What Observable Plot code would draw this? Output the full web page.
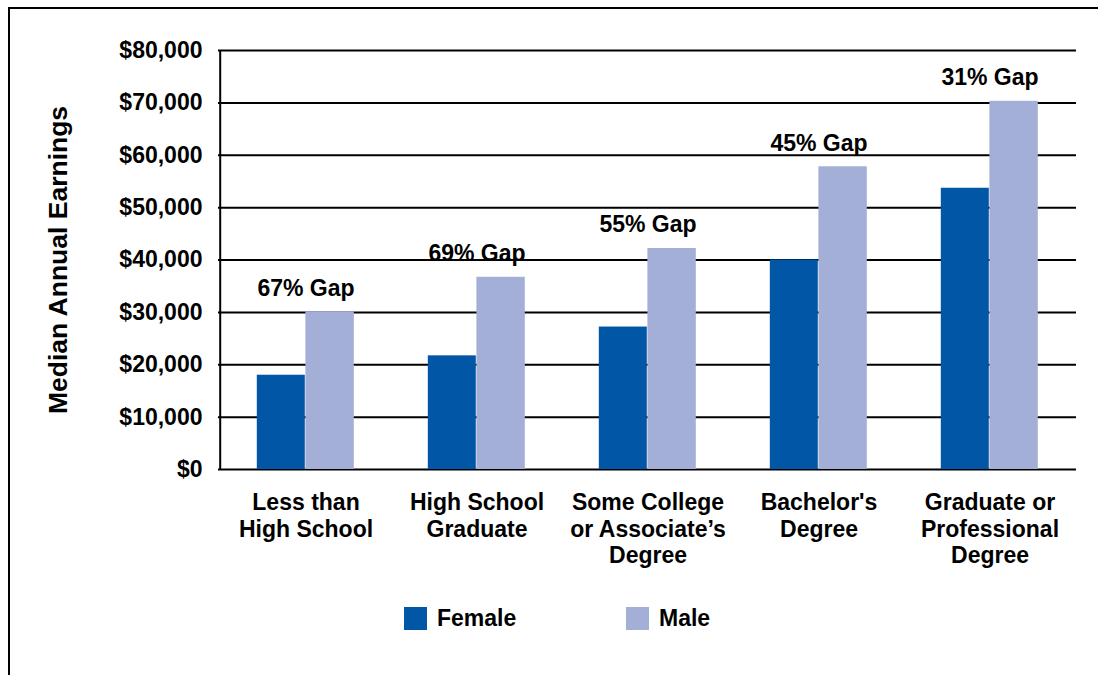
<!DOCTYPE html>
<html>
<head>
<meta charset="utf-8">
<script src="https://cdn.jsdelivr.net/npm/d3@7"></script>
<script src="https://cdn.jsdelivr.net/npm/@observablehq/plot@0.6"></script>
<style>
  html, body { margin: 0; padding: 0; background: #fff; }
  body { width: 1098px; height: 675px; position: relative; overflow: hidden; font-family: "Liberation Sans", Arial, sans-serif; }
  #frame { position: absolute; left: 8px; top: 7px; width: 1200px; height: 800px; border-left: 2px solid #000; border-top: 2px solid #000; box-sizing: border-box; }
  #chart { position: absolute; left: 0; top: 0; }
  #legend { position: absolute; top: 607px; left: 0; width: 1098px; height: 23px; font-weight: bold; font-size: 23px; color: #000; }
  .item { position: absolute; top: 0; display: flex; align-items: center; height: 23px; }
  .sw { width: 23px; height: 23px; margin-right: 10px; }
</style>
</head>
<body>
<div id="frame"></div>
<div id="chart"></div>
<div id="legend"></div>
<script>
const categories = [
  "Less than\nHigh School",
  "High School\nGraduate",
  "Some College\nor Associate’s\nDegree",
  "Bachelor's\nDegree",
  "Graduate or\nProfessional\nDegree"
];
const series = ["Female", "Male"];
const femaleValues = [18000, 21700, 27200, 40000, 53700];
const maleValues = [30100, 36700, 42200, 57800, 70300];
const gapLabels = ["67% Gap", "69% Gap", "55% Gap", "45% Gap", "31% Gap"];
const yTicks = [0, 10000, 20000, 30000, 40000, 50000, 60000, 70000, 80000];
const colors = ["#0256A6", "#A4AFD8"];

const female = categories.map((c, i) => ({category: c, value: femaleValues[i], sex: "Female"}));
const male = categories.map((c, i) => ({category: c, value: maleValues[i], sex: "Male", gap: gapLabels[i]}));

const W = 1098, H = 590, mL = 218, mR = 22, mT = 50, mB = 121;
const band = (W - mL - mR) / categories.length;

const fmt = d3.format("$,.0f");

const plot = Plot.plot({
  width: W,
  height: H,
  marginLeft: mL,
  marginRight: mR,
  marginTop: mT,
  marginBottom: mB,
  style: {fontFamily: "Liberation Sans, Arial, sans-serif", color: "#000", background: "transparent", overflow: "visible"},
  x: {type: "band", domain: categories, padding: 0, label: null},
  y: {domain: [0, 80000], label: null},
  color: {domain: series, range: colors},
  marks: [
    Plot.ruleY(yTicks, {stroke: "#000", strokeWidth: 2}),
    Plot.barY(female, {x: "category", y: "value", fill: colors[0], insetLeft: 36.8, insetRight: band - 85.4}),
    Plot.barY(male, {x: "category", y: "value", fill: colors[1], insetLeft: 85.4, insetRight: band - 134.4}),
    Plot.ruleX([categories[0]], {dx: -band / 2, y1: 0, y2: 80000, stroke: "#000", strokeWidth: 2}),
    Plot.text(male, {x: "category", y: "value", text: "gap", dy: -16, lineAnchor: "bottom", fontSize: 23, fontWeight: "bold", fill: "#000"}),
    Plot.axisY({ticks: yTicks, tickSize: 0, tickPadding: 16, tickFormat: fmt, fontSize: 23, fontWeight: "bold", label: null}),
    Plot.axisX({tickSize: 0, tickPadding: 21, fontSize: 23, fontWeight: "bold", lineHeight: 1.17, lineAnchor: "top", label: null}),
    Plot.text(["Median Annual Earnings"], {frameAnchor: "left", dx: -160, rotate: -90, fontSize: 26.5, fontWeight: "bold", fill: "#000", textAnchor: "middle"})
  ]
});
document.getElementById("chart").appendChild(plot);

const legend = document.getElementById("legend");
const legendX = [404, 626];
series.forEach((s, i) => {
  const item = document.createElement("div");
  item.className = "item";
  item.style.left = legendX[i] + "px";
  const sw = document.createElement("span");
  sw.className = "sw";
  sw.style.background = colors[i];
  const t = document.createElement("span");
  t.textContent = s;
  item.appendChild(sw);
  item.appendChild(t);
  legend.appendChild(item);
});
</script>
</body>
</html>
